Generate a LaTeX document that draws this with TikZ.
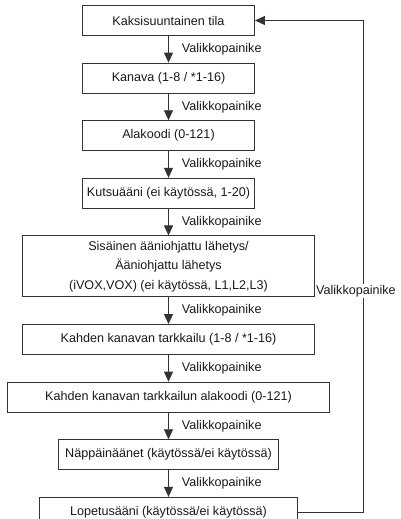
\documentclass[tikz,border=0pt]{standalone}
\usepackage{fontspec}
\setmainfont{Liberation Sans}
\usetikzlibrary{arrows.meta,positioning}

\begin{document}
\begin{tikzpicture}[
  node distance=26.7pt,
  box/.style={draw=black!80,line width=0.9pt,align=center,minimum height=30pt,inner sep=2pt,font=\fontsize{12.6}{19.5}\selectfont,text=black!90},
  arr/.style={-{Triangle[length=10pt,width=9pt]},line width=0.9pt,draw=black!80},
  lbl/.style={anchor=west,inner sep=0pt,xshift=13pt,font=\fontsize{12.6}{15}\selectfont,text=black!90}
]
\useasboundingbox (0,0) rectangle (401pt,-519pt);

\node[box, minimum width=172pt] (kaksi) at (168.5pt,-20.5pt) {Kaksisuuntainen tila};
\node[box, minimum width=172pt, below=of kaksi] (kanava) {Kanava (1-8 / *1-16)};
\node[box, minimum width=172pt, below=of kanava] (alakoodi) {Alakoodi (0-121)};
\node[box, minimum width=172pt, below=of alakoodi] (kutsu) {Kutsuääni (ei käytössä, 1-20)};
\node[box, minimum width=292pt, minimum height=61pt, below=of kutsu] (vox) {Sisäinen ääniohjattu lähetys/\\Ääniohjattu lähetys\\(iVOX,VOX) (ei käytössä, L1,L2,L3)};
\node[box, minimum width=292pt, below=of vox] (tarkk) {Kahden kanavan tarkkailu (1-8 / *1-16)};
\node[box, minimum width=322pt, below=of tarkk] (tarkala) {Kahden kanavan tarkkailun alakoodi (0-121)};
\node[box, minimum width=220pt, below=of tarkala] (nappain) {Näppäinäänet (käytössä/ei käytössä)};
\node[box, minimum width=258pt, below=of nappain] (lopetus) {Lopetusääni (käytössä/ei käytössä)};

\draw[arr] (kaksi) -- node[lbl] (l1) {Valikkopainike} (kanava);
\draw[arr] (kanava) -- node[lbl] (l2) {Valikkopainike} (alakoodi);
\draw[arr] (alakoodi) -- node[lbl] (l3) {Valikkopainike} (kutsu);
\draw[arr] (kutsu) -- node[lbl] (l4) {Valikkopainike} (vox);
\draw[arr] (vox) -- node[lbl] (l5) {Valikkopainike} (tarkk);
\draw[arr] (tarkk) -- node[lbl] (l6) {Valikkopainike} (tarkala);
\draw[arr] (tarkala) -- node[lbl] (l7) {Valikkopainike} (nappain);
\draw[arr] (nappain) -- node[lbl] (l8) {Valikkopainike} (lopetus);
\draw[arr] (lopetus.east) -- ++(65pt,0) |- node[pos=0.225,fill=white,inner sep=1pt,xshift=-7pt,font=\fontsize{12.6}{15}\selectfont,text=black!90] (l9) {Valikkopainike} (kaksi.east);
\end{tikzpicture}
\end{document}
